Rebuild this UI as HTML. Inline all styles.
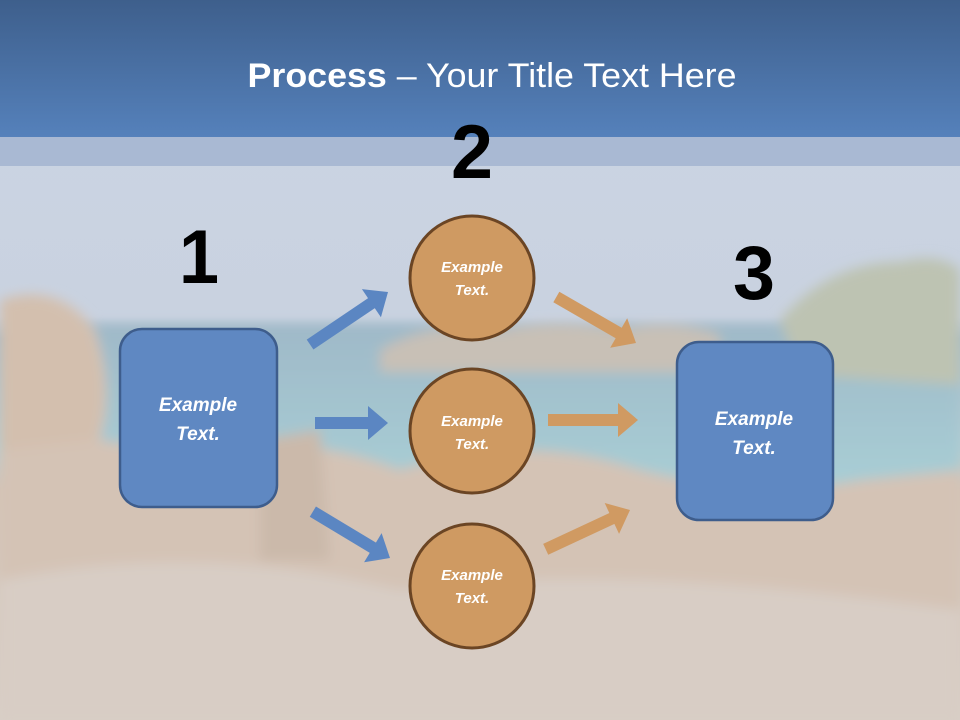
<!DOCTYPE html>
<html><head><meta charset="utf-8"><style>
html,body{margin:0;padding:0;width:960px;height:720px;overflow:hidden}
svg{display:block}
text{font-family:"Liberation Sans",sans-serif}
</style></head><body>
<svg width="960" height="720" viewBox="0 0 960 720">
<defs>
<linearGradient id="hdr" x1="0" y1="0" x2="0" y2="1">
<stop offset="0" stop-color="#3e5f8c"/><stop offset="1" stop-color="#5581bb"/></linearGradient>
<linearGradient id="bg" x1="0" y1="0" x2="0" y2="1">
<stop offset="0" stop-color="#cbd5e4"/>
<stop offset="0.44" stop-color="#c9d2e0"/>
<stop offset="0.47" stop-color="#a6bccb"/>
<stop offset="0.62" stop-color="#b4cdd3"/>
<stop offset="0.68" stop-color="#d3c4b7"/>
<stop offset="1" stop-color="#d8cec6"/></linearGradient>
<linearGradient id="sea" x1="0" y1="0" x2="0" y2="1">
<stop offset="0" stop-color="#9fb9c8"/><stop offset="1" stop-color="#a8ced5"/></linearGradient>
<filter id="blur"><feGaussianBlur stdDeviation="6"/></filter>
<path id="hd" d="M0,0 L-20,-17 L-20,17 Z"/>
</defs>
<rect width="960" height="720" fill="url(#bg)"/>
<g filter="url(#blur)">
<rect x="80" y="325" width="880" height="160" fill="url(#sea)"/>
<path d="M0,300 Q60,280 95,330 Q115,390 100,440 L190,455 Q300,430 400,470 Q520,430 640,470 Q760,500 860,480 L960,470 L960,720 L0,720 Z" fill="#d4c3b5"/>
<path d="M0,300 Q50,285 90,330 Q112,385 95,440 L0,450 Z" fill="#d3bfae"/>
<path d="M380,350 Q430,320 500,330 Q560,318 620,330 Q670,318 720,335 L720,372 L380,372 Z" fill="#c8c0b6"/>
<path d="M780,320 Q830,262 900,262 Q940,252 960,270 L960,385 L800,375 Z" fill="#bdc3b2"/>
<path d="M0,580 Q200,540 400,590 Q600,560 960,610 L960,720 L0,720 Z" fill="#d8cdc5"/>
<path d="M260,440 L320,430 L330,560 L260,560 Z" fill="#cbb9aa"/>
</g>
<!-- header -->
<rect x="0" y="0" width="960" height="137" fill="url(#hdr)"/>
<rect x="0" y="137" width="960" height="29" fill="#a9b9d3"/>
<text x="492" y="87" text-anchor="middle" font-size="34" fill="#fff" textLength="489" lengthAdjust="spacingAndGlyphs"><tspan font-weight="bold">Process</tspan> – Your Title Text Here</text>
<!-- numbers -->
<g font-weight="bold" font-size="76" fill="#000" text-anchor="middle">
<text x="199" y="283" textLength="40" lengthAdjust="spacingAndGlyphs">1</text>
<text x="472" y="178" textLength="42" lengthAdjust="spacingAndGlyphs">2</text>
<text x="754" y="299" textLength="42" lengthAdjust="spacingAndGlyphs">3</text>
</g>
<!-- arrows -->
<g fill="#5b86c2">
<g transform="translate(388,292) rotate(-34)"><use href="#hd"/><rect x="-94" y="-6" width="75" height="12"/></g>
<g transform="translate(388,423)"><use href="#hd"/><rect x="-73" y="-6" width="54" height="12"/></g>
<g transform="translate(390,558) rotate(31)"><use href="#hd"/><rect x="-90" y="-6" width="71" height="12"/></g>
</g>
<g fill="#d09a62">
<g transform="translate(636,343) rotate(30)"><use href="#hd"/><rect x="-92" y="-6" width="73" height="12"/></g>
<g transform="translate(638,420)"><use href="#hd"/><rect x="-90" y="-6" width="71" height="12"/></g>
<g transform="translate(630,510) rotate(-25)"><use href="#hd"/><rect x="-93" y="-6" width="74" height="12"/></g>
</g>
<!-- boxes -->
<rect x="120" y="329" width="157" height="178" rx="22" fill="#5f88c2" stroke="#3e5d8c" stroke-width="2.5"/>
<rect x="677" y="342" width="156" height="178" rx="22" fill="#5f88c2" stroke="#3e5d8c" stroke-width="2.5"/>
<g fill="#fff" font-weight="bold" font-style="italic" font-size="19" text-anchor="middle">
<text x="198" y="411">Example</text><text x="198" y="440">Text.</text>
<text x="754" y="425">Example</text><text x="754" y="454">Text.</text>
</g>
<!-- circles -->
<g fill="#cf9a62" stroke="#6b4524" stroke-width="3">
<circle cx="472" cy="278" r="62"/>
<circle cx="472" cy="431" r="62"/>
<circle cx="472" cy="586" r="62"/>
</g>
<g fill="#fff" font-weight="bold" font-style="italic" font-size="15" text-anchor="middle">
<text x="472" y="272">Example</text><text x="472" y="295">Text.</text>
<text x="472" y="426">Example</text><text x="472" y="449">Text.</text>
<text x="472" y="580">Example</text><text x="472" y="603">Text.</text>
</g>
</svg>
</body></html>
